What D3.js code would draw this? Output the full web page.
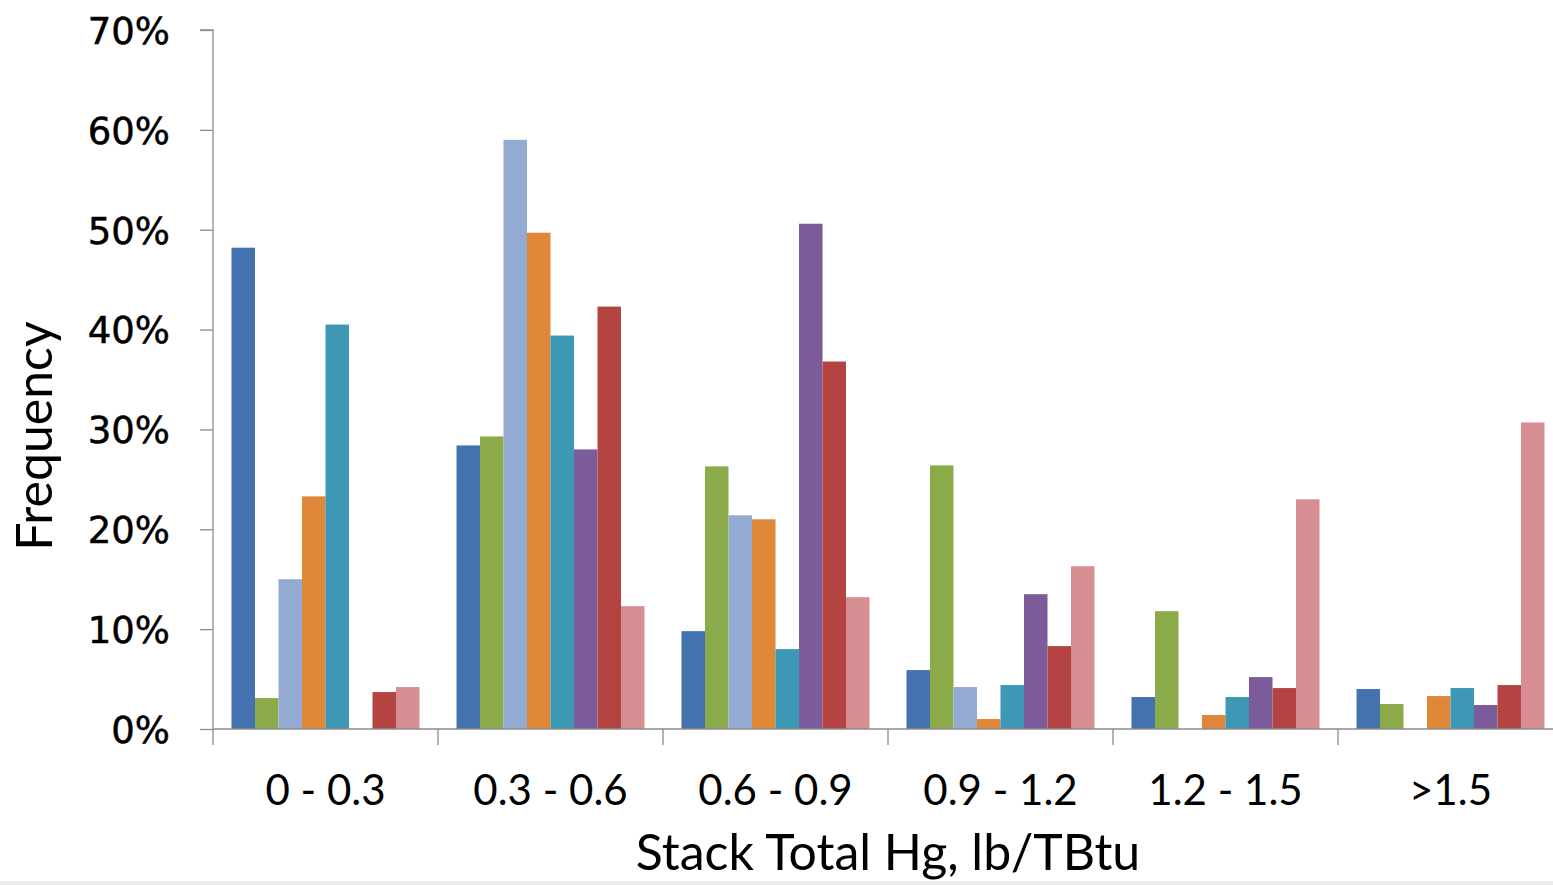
<!DOCTYPE html>
<html>
<head>
<meta charset="utf-8">
<script src="https://cdn.jsdelivr.net/npm/d3@7"></script>
<style>
  html, body { margin: 0; padding: 0; background: #fff; }
  svg { display: block; }
</style>
</head>
<body>
<svg id="chart" width="1553" height="885"></svg>
<script>
// Bins of stack total Hg (lb/TBtu)
const categories = ["0 - 0.3", "0.3 - 0.6", "0.6 - 0.9", "0.9 - 1.2", "1.2 - 1.5", ">1.5"];

// Frequency (%) per bin for each series
const seriesNames = ["S1", "S2", "S3", "S4", "S5", "S6", "S7", "S8"];
const s1 = [48.2, 28.4, 9.8, 5.9, 3.2, 4.0];
const s2 = [3.1, 29.3, 26.3, 26.4, 11.8, 2.5];
const s3 = [15.0, 59.0, 21.4, 4.2, 0, 0];
const s4 = [23.3, 49.7, 21.0, 1.0, 1.4, 3.3];
const s5 = [40.5, 39.4, 8.0, 4.4, 3.2, 4.1];
const s6 = [0, 28.0, 50.6, 13.5, 5.2, 2.4];
const s7 = [3.7, 42.3, 36.8, 8.3, 4.1, 4.4];
const s8 = [4.2, 12.3, 13.2, 16.3, 23.0, 30.7];
const seriesValues = [s1, s2, s3, s4, s5, s6, s7, s8];

const yTicks = [0, 10, 20, 30, 40, 50, 60, 70];
const colors = ["#4472AE", "#8BAA49", "#93AAD2", "#E0883A", "#3C98B4", "#7B5B99", "#B34442", "#D68E93"];

const svg = d3.select("#chart");
const axisColor = "#8c8c8c";

const x0 = 213, x1 = 1563, yBase = 729, yTop = 30;

const x = d3.scaleBand().domain(categories).range([x0, x1]).paddingInner(0).paddingOuter(0);
const xs = d3.scaleBand().domain(seriesNames)
  .range([18.5, x.bandwidth() - 18.5]).paddingInner(0).paddingOuter(0);
const y = d3.scaleLinear().domain([0, 70]).range([yBase, yTop]);

// bars
const groups = svg.append("g").selectAll("g")
  .data(categories)
  .join("g")
  .attr("transform", d => `translate(${x(d)},0)`);

groups.selectAll("rect")
  .data((c, ci) => seriesNames.map((s, si) => ({ s, si, v: seriesValues[si][ci] })))
  .join("rect")
  .attr("x", d => xs(d.s))
  .attr("width", xs.bandwidth())
  .attr("y", d => y(d.v))
  .attr("height", d => yBase - y(d.v))
  .attr("fill", d => colors[d.si]);

// y axis
const yAxis = d3.axisLeft(y).tickValues(yTicks).tickSize(13).tickFormat(d => d + "%");
const gy = svg.append("g").attr("transform", `translate(${x0},0)`).call(yAxis);
gy.select(".domain").attr("stroke", axisColor).attr("stroke-width", 1.3)
  .attr("d", `M-13,${yTop}H0V${yBase}`);
gy.selectAll(".tick line").attr("stroke", axisColor).attr("stroke-width", 1.3);
gy.selectAll(".tick text")
  .attr("x", -43)
  .attr("dy", "0.36em")
  .attr("fill", "#000")
  .attr("stroke", "#000")
  .attr("stroke-width", 0.5)
  .style("font-family", "'DejaVu Sans', Verdana, sans-serif")
  .style("font-size", "37px");

// x axis: baseline plus separators between bins
const gx = svg.append("g");
gx.append("line")
  .attr("x1", x0).attr("x2", x1).attr("y1", yBase).attr("y2", yBase)
  .attr("stroke", axisColor).attr("stroke-width", 1.3);
gx.selectAll("line.sep")
  .data(categories)
  .join("line")
  .attr("class", "sep")
  .attr("x1", d => x(d)).attr("x2", d => x(d))
  .attr("y1", yBase).attr("y2", yBase + 16)
  .attr("stroke", axisColor).attr("stroke-width", 1.3);
gx.selectAll("text")
  .data(categories)
  .join("text")
  .attr("x", d => x(d) + x.bandwidth() / 2)
  .attr("y", 805)
  .attr("text-anchor", "middle")
  .style("font-family", "Lato, 'Open Sans', sans-serif")
  .style("font-size", "42px")
  .attr("fill", "#000")
  .text(d => d);

// axis titles
svg.append("text")
  .attr("x", 888).attr("y", 870)
  .attr("text-anchor", "middle")
  .style("font-family", "Lato, 'Open Sans', sans-serif")
  .style("font-size", "50px")
  .attr("fill", "#000")
  .text("Stack Total Hg, lb/TBtu");

svg.append("text")
  .attr("transform", "translate(52,436) rotate(-90)")
  .attr("text-anchor", "middle")
  .style("font-family", "Lato, 'Open Sans', sans-serif")
  .style("font-size", "50px")
  .attr("fill", "#000")
  .text("Frequency");

// faint frame edge along the bottom
svg.append("rect")
  .attr("x", 0).attr("y", 881).attr("width", 1553).attr("height", 4)
  .attr("fill", "#ececec");
</script>
</body>
</html>
